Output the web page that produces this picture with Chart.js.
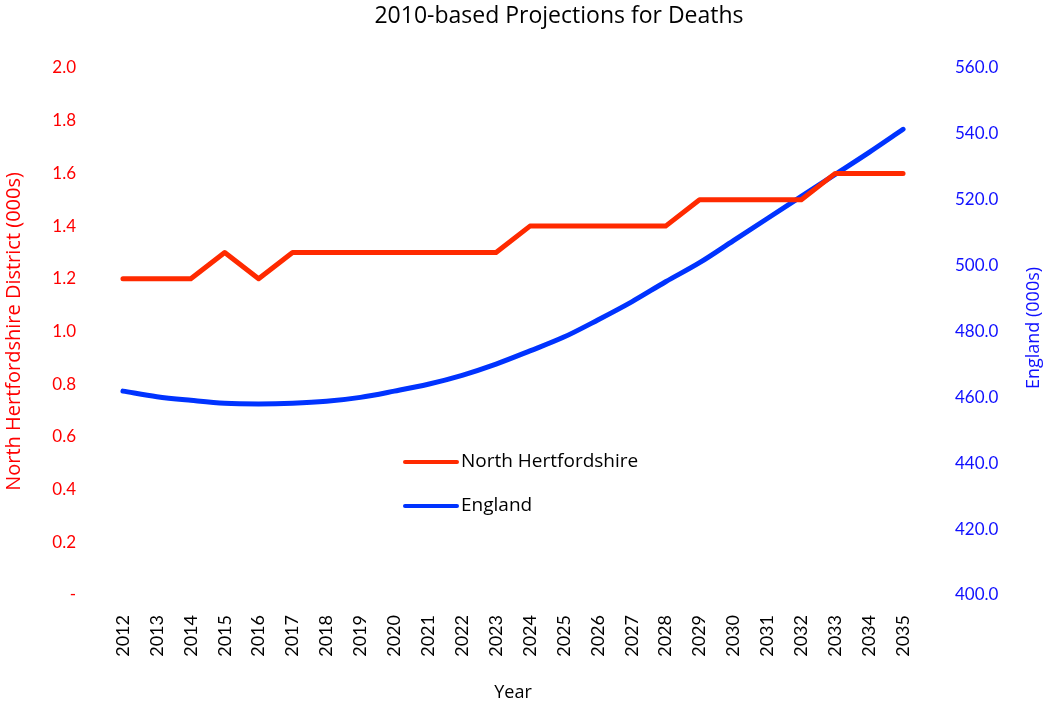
<!DOCTYPE html>
<html>
<head>
<meta charset="utf-8">
<script src="https://cdn.jsdelivr.net/npm/chart.js@4"></script>
<style>
  html, body { margin: 0; padding: 0; background: #fff; }
  #box { width: 1044px; height: 706px; }
</style>
</head>
<body>
<div id="box"><canvas id="deathsChart"></canvas></div>
<script>
// Данные графика
const years = ['2012', '2013', '2014', '2015', '2016', '2017', '2018', '2019', '2020', '2021', '2022', '2023',
               '2024', '2025', '2026', '2027', '2028', '2029', '2030', '2031', '2032', '2033', '2034', '2035'];
const northHerts = [1.2, 1.2, 1.2, 1.3, 1.2, 1.3, 1.3, 1.3, 1.3, 1.3, 1.3, 1.3,
                    1.4, 1.4, 1.4, 1.4, 1.4, 1.5, 1.5, 1.5, 1.5, 1.6, 1.6, 1.6];
const england = [461.9, 460.2, 459.1, 458.2, 458.0, 458.2, 458.8, 460.0, 461.9, 464.0, 466.7, 470.1,
                 474.1, 478.3, 483.5, 489.0, 495.1, 500.9, 507.6, 514.3, 521.0, 527.7, 534.4, 541.4];

const chartTitle = '2010-based Projections for Deaths';

const TICK_FONT = 'Lato, "DejaVu Sans", sans-serif';
const TEXT_FONT = '"Open Sans", Lato, sans-serif';
const RED = '#ff2a00';
const BLUE = '#0033ff';

// Заголовок, легенда внутри области графика и подпись правой оси
const extrasPlugin = {
    id: 'extras',
    afterDraw(chart) {
        const ctx = chart.ctx;
        const area = chart.chartArea;
        ctx.save();
        ctx.textBaseline = 'middle';

        // Заголовок (в оригинале сдвинут вправо от центра)
        ctx.font = '23px ' + TEXT_FONT;
        ctx.fillStyle = '#000';
        ctx.textAlign = 'center';
        ctx.fillText(chartTitle, 559, 16);

        // Легенда
        ctx.font = '19px ' + TEXT_FONT;
        chart.data.datasets.forEach((ds, i) => {
            const y = area.top + 394 + i * 44;
            const x = area.left + 299;
            ctx.strokeStyle = ds.borderColor;
            ctx.lineWidth = 4;
            ctx.lineCap = 'round';
            ctx.beginPath();
            ctx.moveTo(x, y);
            ctx.lineTo(x + 52, y);
            ctx.stroke();
            ctx.fillStyle = '#000';
            ctx.textAlign = 'left';
            ctx.fillText(ds.label, x + 56, y);
        });

        // Подпись правой оси
        ctx.translate(1034, 328);
        ctx.rotate(-Math.PI / 2);
        ctx.font = '18px ' + TEXT_FONT;
        ctx.fillStyle = '#1010ff';
        ctx.textAlign = 'center';
        ctx.fillText('England (000s)', 0, 0);
        ctx.restore();
    }
};

new Chart(document.getElementById('deathsChart'), {
    type: 'line',
    data: {
        labels: years,
        datasets: [
            {
                label: 'North Hertfordshire',
                data: northHerts,
                yAxisID: 'yLeft',
                borderColor: RED,
                borderWidth: 5,
                pointRadius: 0,
                tension: 0,
                borderCapStyle: 'round',
                borderJoinStyle: 'round'
            },
            {
                label: 'England',
                data: england,
                yAxisID: 'yRight',
                borderColor: BLUE,
                borderWidth: 5,
                pointRadius: 0,
                tension: 0.4,
                cubicInterpolationMode: 'monotone',
                borderCapStyle: 'round'
            }
        ]
    },
    options: {
        responsive: true,
        maintainAspectRatio: false,
        animation: false,
        layout: { padding: { top: 68 } },
        plugins: {
            legend: { display: false },
            tooltip: { enabled: false },
            title: { display: false }
        },
        scales: {
            x: {
                offset: true,
                grid: { display: false },
                border: { display: false },
                ticks: {
                    color: '#000',
                    font: { family: TICK_FONT, size: 18 },
                    minRotation: 90,
                    maxRotation: 90,
                    padding: 12,
                    autoSkip: false
                },
                title: {
                    display: true,
                    text: 'Year',
                    color: '#000',
                    font: { family: TEXT_FONT, size: 18 },
                    padding: { top: 20, bottom: 2 }
                },
                afterFit(scale) { scale.height = 111; }
            },
            yLeft: {
                position: 'left',
                min: 0,
                max: 2,
                grid: { display: false },
                border: { display: false },
                ticks: {
                    stepSize: 0.2,
                    color: '#ff0000',
                    padding: 22,
                    font: { family: TICK_FONT, size: 17 },
                    callback: (v) => Math.abs(v) < 1e-9 ? '-' : v.toFixed(1)
                },
                title: {
                    display: true,
                    text: 'North Hertfordshire District (000s)',
                    color: '#ff0000',
                    font: { family: TEXT_FONT, size: 20 },
                    padding: { top: 2, bottom: 0 }
                },
                afterFit(scale) { scale.width = 106; }
            },
            yRight: {
                position: 'right',
                min: 400,
                max: 560,
                grid: { display: false },
                border: { display: false },
                ticks: {
                    stepSize: 20,
                    color: '#1010ff',
                    padding: 27,
                    font: { family: TICK_FONT, size: 17 },
                    callback: (v) => v.toFixed(1)
                },
                afterFit(scale) { scale.width = 124; }
            }
        }
    },
    plugins: [extrasPlugin]
});
</script>
</body>
</html>
